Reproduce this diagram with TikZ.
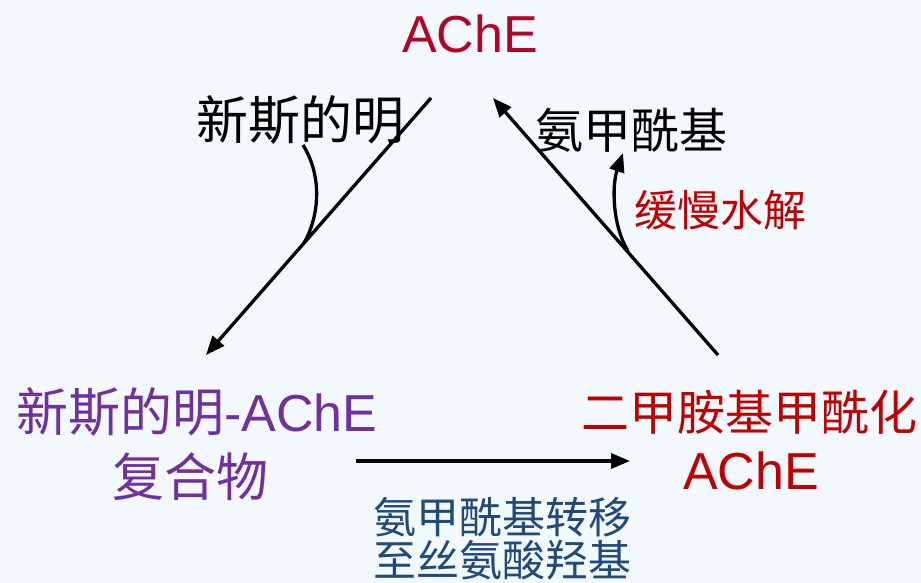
\documentclass[tikz,border=0pt]{standalone}
\usepackage{fontspec}
\setmainfont{Liberation Sans}
\newfontfamily\cjk{Noto Sans CJK SC}
\usetikzlibrary{arrows.meta}
\definecolor{bgc}{HTML}{F3F8FC}
\definecolor{crim}{HTML}{B0062A}
\definecolor{redc}{HTML}{C00000}
\definecolor{purp}{HTML}{7030A0}
\definecolor{navy}{HTML}{1F4A7A}
\tikzset{
  lbl/.style={inner sep=0pt, anchor=center},
  big/.style={font=\fontsize{52}{56}\selectfont},
  mid/.style={font=\fontsize{48}{52}\selectfont},
  small/.style={font=\fontsize{43}{47}\selectfont},
  arr/.style={line width=3.3pt, -{Triangle[length=19pt,width=15pt]}},
  br/.style={line width=3.3pt},
}
\begin{document}
\begin{tikzpicture}[x=1pt,y=-1pt]
\fill[bgc] (0,0) rectangle (921,583);
\useasboundingbox (0,0) rectangle (921,583);

% texts
\node[lbl,big,text=crim] (ache) at (470,34) {AChE};
\node[lbl,big] (neo) at (300,120) {\cjk 新斯的明};
\node[lbl,mid] (carb) at (631,130) {\cjk 氨甲酰基};
\node[lbl,small,text=redc] (slow) at (720,210) {\cjk 缓慢水解};
\node[lbl,big,text=purp] (cplx1) at (197,412) {{\cjk 新斯的明}-AChE};
\node[lbl,big,text=purp] (cplx2) at (190,477) {\cjk 复合物};
\node[lbl,mid,text=redc] (dm1) at (749,412) {\cjk 二甲胺基甲酰化};
\node[lbl,big,text=redc] (dm2) at (751,471) {AChE};
\node[lbl,small,text=navy] (tr1) at (502,517) {\cjk 氨甲酰基转移};
\node[lbl,small,text=navy] (tr2) at (502,560) {\cjk 至丝氨酸羟基};

% connector end points
\coordinate (Lt) at (431,98);
\coordinate (Lb) at (206,355);
\coordinate (Lj) at (304,243);
\coordinate (Ls) at (303,145);
\coordinate (Rb) at (718,355);
\coordinate (Rt) at (493,98);
\coordinate (Rj) at (628,251);
\coordinate (Rs) at (623,153);
\coordinate (Bl) at (356,461);
\coordinate (Br) at (630,461);

% arrows
\draw[arr] (Lt) -- (Lb);
\draw[br] (Ls) .. controls (322,175) and (320,215) .. (Lj);
\draw[arr] (Rb) -- (Rt);
\draw[arr] (Rj) .. controls (612,225) and (612,185) .. (Rs);
\draw[arr] (Bl) -- (Br);
\end{tikzpicture}
\end{document}
